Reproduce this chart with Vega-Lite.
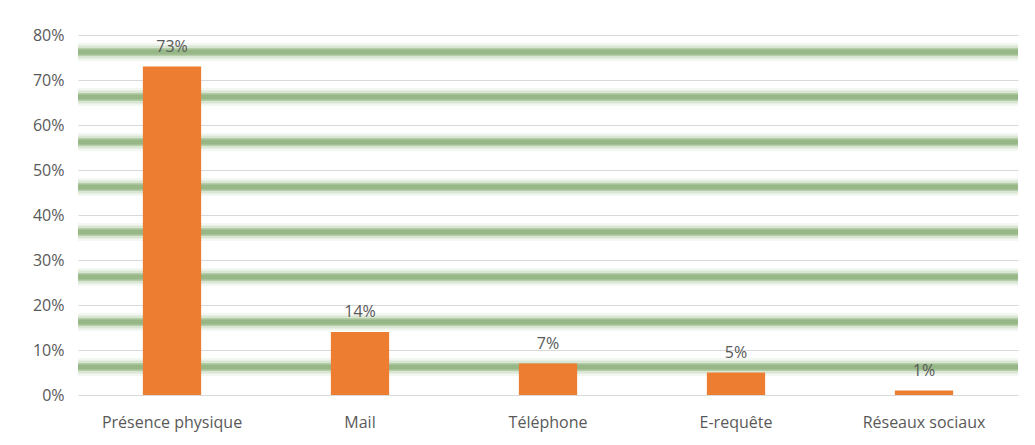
{
  "$schema": "https://vega.github.io/schema/vega-lite/v6.json",
  "width": 940,
  "height": 360,
  "autosize": {"type": "none"},
  "padding": {"left": 78, "top": 35, "right": 17, "bottom": 50},
  "background": "#ffffff",
  "config": {
    "view": {"stroke": null},
    "font": "Open Sans",
    "axis": {"labelFont": "Open Sans", "labelColor": "#595959", "labelFontSize": 16}
  },
  "datasets": {
    "bars": [
      {"canal": "Présence physique", "part": 0.73},
      {"canal": "Mail", "part": 0.14},
      {"canal": "Téléphone", "part": 0.07},
      {"canal": "E-requête", "part": 0.05},
      {"canal": "Réseaux sociaux", "part": 0.01}
    ],
    "grid": [
      {"g": 0.1}, {"g": 0.2}, {"g": 0.3}, {"g": 0.4},
      {"g": 0.5}, {"g": 0.6}, {"g": 0.7}, {"g": 0.8}
    ]
  },
  "layer": [
    {
      "data": {"name": "grid"},
      "mark": {"type": "rule", "color": "#6a9a52", "strokeWidth": 18, "opacity": 0.08, "yOffset": 17},
      "encoding": {"y": {"field": "g", "type": "quantitative", "scale": {"domain": [0, 0.8]},
        "axis": {"title": null, "format": ".0%", "values": [0,0.1,0.2,0.3,0.4,0.5,0.6,0.7,0.8], "ticks": false, "domain": false, "labelPadding": 14, "gridColor": "#d9d9d9", "gridWidth": 1.2}}}
    },
    {
      "data": {"name": "grid"},
      "mark": {"type": "rule", "color": "#6a9a52", "strokeWidth": 13, "opacity": 0.18, "yOffset": 17},
      "encoding": {"y": {"field": "g", "type": "quantitative"}}
    },
    {
      "data": {"name": "grid"},
      "mark": {"type": "rule", "color": "#6a9a52", "strokeWidth": 8, "opacity": 0.33, "yOffset": 17},
      "encoding": {"y": {"field": "g", "type": "quantitative"}}
    },
    {
      "data": {"name": "grid"},
      "mark": {"type": "rule", "color": "#5f8f47", "strokeWidth": 5, "opacity": 0.35, "yOffset": 17},
      "encoding": {"y": {"field": "g", "type": "quantitative"}}
    },
    {
      "data": {"name": "bars"},
      "mark": {"type": "bar", "color": "#ED7D31"},
      "encoding": {
        "x": {"field": "canal", "type": "nominal", "sort": null,
              "scale": {"paddingInner": 0.69, "paddingOuter": 0.345},
              "axis": {"title": null, "labelAngle": 0, "ticks": false, "domain": false, "labelPadding": 19}},
        "y": {"field": "part", "type": "quantitative"}
      }
    },
    {
      "data": {"name": "bars"},
      "mark": {"type": "text", "font": "Open Sans", "fontSize": 16, "color": "#595959", "baseline": "bottom", "dy": -12},
      "encoding": {
        "x": {"field": "canal", "type": "nominal", "sort": null},
        "y": {"field": "part", "type": "quantitative"},
        "text": {"field": "part", "type": "quantitative", "format": ".0%"}
      }
    }
  ]
}
